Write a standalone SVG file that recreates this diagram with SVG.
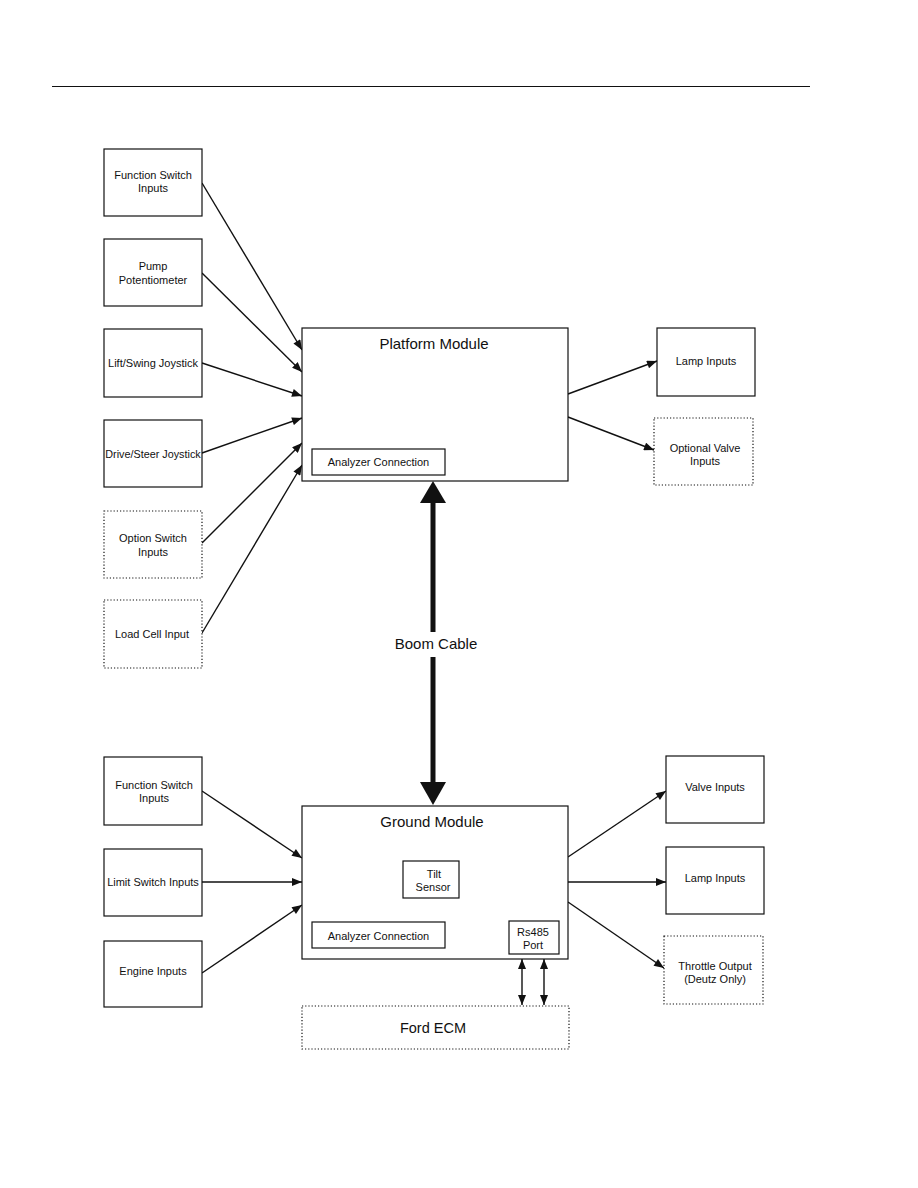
<svg xmlns="http://www.w3.org/2000/svg" width="918" height="1188" viewBox="0 0 918 1188">
<defs>
<style>
.box{fill:#fff;stroke:#111;stroke-width:1.2}
.dot{fill:#fff;stroke:#111;stroke-width:1.2;stroke-dasharray:1.2,2}
.t{font-family:"Liberation Sans",Arial,sans-serif;font-size:11px;fill:#111;text-anchor:middle}
.T{font-family:"Liberation Sans",Arial,sans-serif;font-size:15px;fill:#111;text-anchor:middle}
.c{stroke:#111;stroke-width:1.4;fill:none}
</style>
<marker id="ah" viewBox="0 0 10 8" refX="10" refY="4" markerWidth="11" markerHeight="8" markerUnits="userSpaceOnUse" orient="auto">
<path d="M0,0 L10,4 L0,8 Z" fill="#111"/>
</marker>
<marker id="as" viewBox="0 0 10 8" refX="0" refY="4" markerWidth="11" markerHeight="8" markerUnits="userSpaceOnUse" orient="auto">
<path d="M10,0 L0,4 L10,8 Z" fill="#111"/>
</marker>
</defs>
<rect width="918" height="1188" fill="#fff"/>
<line x1="52" y1="86.5" x2="810" y2="86.5" stroke="#111" stroke-width="1"/>

<g id="connectors">
<line class="c" x1="202" y1="183" x2="302" y2="350" marker-end="url(#ah)"/>
<line class="c" x1="202" y1="273" x2="302" y2="372" marker-end="url(#ah)"/>
<line class="c" x1="202" y1="363" x2="302" y2="396" marker-end="url(#ah)"/>
<line class="c" x1="202" y1="453" x2="302" y2="418" marker-end="url(#ah)"/>
<line class="c" x1="202" y1="543" x2="302" y2="443" marker-end="url(#ah)"/>
<line class="c" x1="202" y1="633" x2="302" y2="465" marker-end="url(#ah)"/>
<line class="c" x1="568" y1="394" x2="657" y2="361" marker-end="url(#ah)"/>
<line class="c" x1="568" y1="417" x2="654" y2="450" marker-end="url(#ah)"/>
<line class="c" x1="202" y1="791" x2="302" y2="858" marker-end="url(#ah)"/>
<line class="c" x1="202" y1="882" x2="302" y2="882" marker-end="url(#ah)"/>
<line class="c" x1="202" y1="973" x2="302" y2="905" marker-end="url(#ah)"/>
<line class="c" x1="568" y1="857" x2="666" y2="791" marker-end="url(#ah)"/>
<line class="c" x1="568" y1="882" x2="666" y2="882" marker-end="url(#ah)"/>
<line class="c" x1="568" y1="902" x2="664" y2="968" marker-end="url(#ah)"/>
<line class="c" x1="522" y1="959" x2="522" y2="1005" marker-start="url(#as)" marker-end="url(#ah)"/>
<line class="c" x1="544" y1="959" x2="544" y2="1005" marker-start="url(#as)" marker-end="url(#ah)"/>
<g id="boom-cable">
<line x1="433" y1="500" x2="433" y2="632" stroke="#111" stroke-width="5"/>
<line x1="433" y1="657" x2="433" y2="785" stroke="#111" stroke-width="5"/>
<polygon points="433,481 446,503 420,503" fill="#111"/>
<polygon points="433,805 446,782 420,782" fill="#111"/>
<text class="T" x="436" y="649">Boom Cable</text>
</g>
</g>

<g id="fs-top"><rect class="box" x="104" y="149" width="98" height="67"/><text class="t" x="153" y="179">Function Switch</text><text class="t" x="153" y="192">Inputs</text></g>
<g id="pump"><rect class="box" x="104" y="239" width="98" height="67"/><text class="t" x="153" y="270">Pump</text><text class="t" x="153" y="284">Potentiometer</text></g>
<g id="lift"><rect class="box" x="104" y="329" width="98" height="68"/><text class="t" x="153" y="367">Lift/Swing Joystick</text></g>
<g id="drive"><rect class="box" x="104" y="420" width="98" height="67"/><text class="t" x="153" y="458" style="font-size:10.8px">Drive/Steer Joystick</text></g>
<g id="option"><rect class="dot" x="104" y="511" width="98" height="67"/><text class="t" x="153" y="542">Option Switch</text><text class="t" x="153" y="556">Inputs</text></g>
<g id="loadcell"><rect class="dot" x="104" y="600" width="98" height="68"/><text class="t" x="152" y="638">Load Cell Input</text></g>

<g id="platform"><rect class="box" x="302" y="328" width="266" height="153"/><text class="T" x="434" y="349">Platform Module</text>
<rect class="box" x="312" y="449" width="133" height="26"/><text class="t" x="378.5" y="466">Analyzer Connection</text></g>

<g id="lamp-top"><rect class="box" x="657" y="328" width="98" height="68"/><text class="t" x="706" y="365">Lamp Inputs</text></g>
<g id="optvalve"><rect class="dot" x="654" y="418" width="99" height="67"/><text class="t" x="705" y="452">Optional Valve</text><text class="t" x="705" y="465">Inputs</text></g>

<g id="fs-bot"><rect class="box" x="104" y="757" width="98" height="68"/><text class="t" x="154" y="789">Function Switch</text><text class="t" x="154" y="802">Inputs</text></g>
<g id="limit"><rect class="box" x="104" y="849" width="98" height="67"/><text class="t" x="153" y="886">Limit Switch Inputs</text></g>
<g id="engine"><rect class="box" x="104" y="941" width="98" height="66"/><text class="t" x="153" y="975">Engine Inputs</text></g>

<g id="ground"><rect class="box" x="302" y="806" width="266" height="153"/><text class="T" x="432" y="827">Ground Module</text>
<rect class="box" x="403" y="861" width="56" height="37"/><text class="t" x="434" y="878">Tilt</text><text class="t" x="433" y="891">Sensor</text>
<rect class="box" x="312" y="922" width="133" height="26"/><text class="t" x="378.5" y="940">Analyzer Connection</text>
<rect class="box" x="509" y="921" width="50" height="33"/><text class="t" x="533" y="936">Rs485</text><text class="t" x="533" y="949">Port</text></g>

<g id="valve"><rect class="box" x="666" y="756" width="98" height="67"/><text class="t" x="715" y="791">Valve Inputs</text></g>
<g id="lamp-bot"><rect class="box" x="666" y="847" width="98" height="67"/><text class="t" x="715" y="882">Lamp Inputs</text></g>
<g id="throttle"><rect class="dot" x="664" y="936" width="99" height="68"/><text class="t" x="715" y="970">Throttle Output</text><text class="t" x="715" y="983">(Deutz Only)</text></g>

<g id="ford"><rect class="dot" x="302" y="1006" width="267" height="43"/><text class="T" x="433" y="1033" style="font-size:14.5px">Ford ECM</text></g>
</svg>
